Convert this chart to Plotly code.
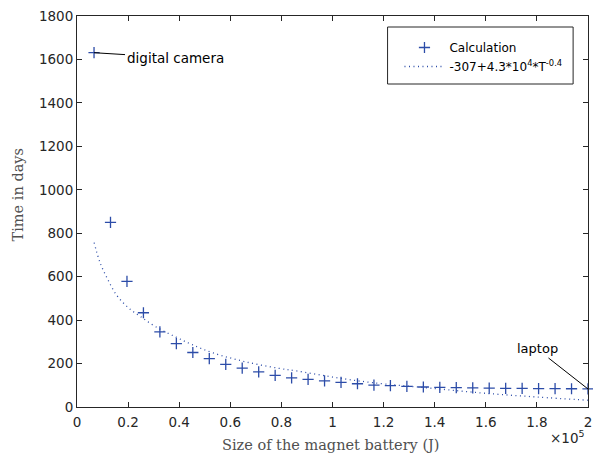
import plotly.graph_objects as go

# ---- data ----
battery_size = [6667, 13111, 19556, 26000, 32444, 38889, 45333, 51778, 58222, 64667,
                71111, 77556, 84000, 90444, 96889, 103333, 109778, 116222, 122667, 129111,
                135556, 142000, 148444, 154889, 161333, 167778, 174222, 180667, 187111,
                193556, 200000]
time_days = [1631, 850, 578, 434, 346, 292, 251, 223, 196, 179,
             162, 146, 134, 127, 120, 113, 107, 101, 98, 95,
             92, 90, 89, 88, 87, 86, 86, 85, 85, 84, 83]

fit_x = [6700, 9000, 12000, 15500, 20000, 25000, 31000, 38700, 44900, 53000,
         66000, 79000, 86000, 100000, 115000, 140000, 160000, 180000, 200000]
fit_y = [757, 665, 588, 515, 458, 415, 368, 322, 288, 250,
         208, 178, 166, 138, 113, 85, 63, 46, 31]

x_tickvals = [0, 20000, 40000, 60000, 80000, 100000, 120000, 140000, 160000, 180000, 200000]
x_ticktext = ["0", "0.2", "0.4", "0.6", "0.8", "1", "1.2", "1.4", "1.6", "1.8", "2"]
y_tickvals = [0, 200, 400, 600, 800, 1000, 1200, 1400, 1600, 1800]

blue = "#2c4ca8"
axis_col = "#262626"
label_col = "#505050"
sans = "DejaVu Sans"
serif = "DejaVu Serif"

# plot area geometry (pixels) used to place paper-referenced items
L, R, T, B = 77, 1, 16, 48
W, H = 593 - L - R, 455 - T - B


def px(xp):
    return (xp - L) / W


def py(yp):
    return (455 - B - yp) / H


fig = go.Figure()
fig.add_trace(go.Scatter(
    x=battery_size, y=time_days, mode="markers", name="Calculation",
    marker=dict(symbol="cross-thin-open", size=8, line=dict(color=blue, width=1.3), color=blue),
    cliponaxis=False,
))
fig.add_trace(go.Scatter(
    x=fit_x, y=fit_y, mode="lines", name="-307+4.3*10<sup>4</sup>*T<sup>-0.4</sup>",
    line=dict(color=blue, width=1.3, dash="1px,3.5px", shape="spline"),
))

# legend frame
fig.add_shape(type="rect", xref="paper", yref="paper",
              x0=px(390), x1=px(577), y0=py(84), y1=py(27),
              line=dict(color=axis_col, width=1), fillcolor="white", layer="above")

fig.add_annotation(x=battery_size[0], y=time_days[0], text="digital camera",
                   showarrow=True, arrowhead=0, arrowwidth=1, arrowcolor="black",
                   ax=81, ay=5, font=dict(family=sans, size=13.5, color="black"))
fig.add_annotation(x=battery_size[-1], y=time_days[-1], text="laptop",
                   showarrow=True, arrowhead=0, arrowwidth=1, arrowcolor="black",
                   ax=-51, ay=-40, font=dict(family=sans, size=13, color="black"))
fig.add_annotation(xref="paper", yref="paper", x=px(591), y=py(437), xanchor="right", yanchor="middle",
                   text="×10<sup>5</sup>", showarrow=False,
                   font=dict(family=sans, size=13.5, color=axis_col))
# axis labels
fig.add_annotation(xref="paper", yref="paper", x=px(333), y=py(445), xanchor="center", yanchor="middle",
                   text="Size of the magnet battery (J)", showarrow=False,
                   font=dict(family=serif, size=14.5, color=label_col))
fig.add_annotation(xref="paper", yref="paper", x=px(18), y=py(195), xanchor="center", yanchor="middle",
                   text="Time in days", showarrow=False, textangle=-90,
                   font=dict(family=serif, size=14.5, color=label_col))

fig.update_layout(
    width=593, height=455,
    margin=dict(l=L, r=R, t=T, b=B),
    paper_bgcolor="white", plot_bgcolor="white",
    font=dict(family=sans, size=13.5, color=axis_col),
    showlegend=True,
    legend=dict(x=px(402), y=py(33), xanchor="left", yanchor="top",
                bgcolor="rgba(0,0,0,0)", borderwidth=0,
                font=dict(family=sans, size=12, color="black"),
                tracegroupgap=0, itemwidth=40),
    xaxis=dict(range=[0, 200000], tickvals=x_tickvals, ticktext=x_ticktext,
               ticks="inside", ticklen=5, tickcolor=axis_col, showline=True, linecolor=axis_col,
               linewidth=1, mirror="ticks", showgrid=False, zeroline=False,
               ticklabeloverflow="allow", ticklabelstandoff=3),
    yaxis=dict(range=[0, 1800], tickvals=y_tickvals,
               ticks="inside", ticklen=5, tickcolor=axis_col, showline=True, linecolor=axis_col,
               linewidth=1, mirror="ticks", showgrid=False, zeroline=False),
)

fig.write_html("out.html")
